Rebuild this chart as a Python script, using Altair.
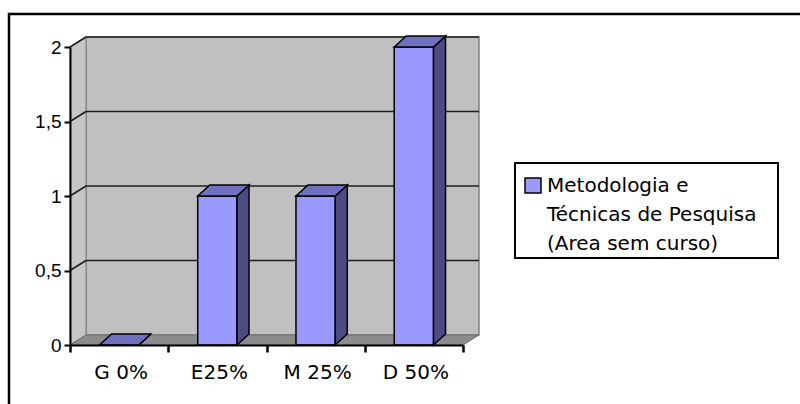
import altair as alt
import pandas as pd

# Chart values
categories = ["G 0%", "E25%", "M 25%", "D 50%"]
values = [0, 1, 1, 2]
y_ticks = [0, 0.5, 1, 1.5, 2]
series_lines = ["Metodologia e", "Técnicas de Pesquisa", "(Area sem curso)"]

# Plot area (front plane) in pixels
W, H = 393, 298
Y_MAX = 2
N = len(categories)
px_x = W / N
px_y = H / Y_MAX

# 3-D depth of walls and of the bars, expressed in data units
DXW, DYW = 16 / px_x, 10 / px_y
DXB, DYB = 12 / px_x, 11 / px_y
HALF = 0.2  # half bar width in category units

FRONT = "#9999FF"
TOP = "#7070C0"
SIDE = "#4C4C80"
WALL = "#C0C0C0"
FLOOR = "#8C8C8C"
FONT = "DejaVu Sans"
AXIS_FONT = "Liberation Sans"

xs = alt.Scale(domain=[0, N], nice=False, zero=False)
ys = alt.Scale(domain=[0, Y_MAX], nice=False, zero=False)

# Shared axes (identical on every layer so they merge cleanly), drawn above marks
x_axis = alt.Axis(
    values=list(range(N + 1)), labels=False, title=None, grid=False, zindex=2,
    domainColor="black", domainWidth=2, tickColor="black", tickWidth=2.5, tickSize=7,
)
y_axis = alt.Axis(
    values=y_ticks, title=None, grid=False, zindex=2,
    labelExpr="replace(format(datum.value, '~g'), '.', ',')",
    labelFont=AXIS_FONT, labelFontSize=19, labelColor="black", labelPadding=3,
    domainColor="black", domainWidth=2, tickColor="black", tickWidth=2, tickSize=6,
)


def X(field):
    return alt.X(field, scale=xs, axis=x_axis)


def Y(field):
    return alt.Y(field, scale=ys, axis=y_axis)


# ---- geometry tables built from the value arrays ----
front_rows, side_rows, top_rows = [], [], []
for i, (c, v) in enumerate(zip(categories, values)):
    xl, xr = i + 0.5 - HALF, i + 0.5 + HALF
    front_rows.append({"cat": c, "x": xl, "x2": xr, "y": 0, "y2": v})
    side_rows += [
        {"cat": c, "x": xr, "y": 0, "y2": v},
        {"cat": c, "x": xr + DXB, "y": DYB, "y2": v + DYB},
    ]
    top_rows += [
        {"cat": c, "y": v, "x": xl, "x2": xr},
        {"cat": c, "y": v + DYB, "x": xl + DXB, "x2": xr + DXB},
    ]
front_df = pd.DataFrame(front_rows)
side_df = pd.DataFrame(side_rows)
top_df = pd.DataFrame(top_rows)

label_df = pd.DataFrame({"cat": categories, "pos": [i + 0.5 for i in range(N)]})
grid_df = pd.DataFrame({"k": [t for t in y_ticks if t > 0]})
grid_df["kb"] = grid_df["k"] + DYW
grid_df["x0"] = 0.0
grid_df["xw"] = DXW
grid_df["xe"] = N + DXW

wall_df = pd.DataFrame([{"x": DXW, "x2": N + DXW, "y": DYW, "y2": Y_MAX + DYW}])
side_wall_df = pd.DataFrame([
    {"x": 0, "y": 0, "y2": Y_MAX},
    {"x": DXW, "y": DYW, "y2": Y_MAX + DYW},
])
floor_df = pd.DataFrame([
    {"y": 0, "x": 0, "x2": N},
    {"y": DYW, "x": DXW, "x2": N + DXW},
])
legend_df = pd.DataFrame({"name": ["\n".join(series_lines)]})
one_df = pd.DataFrame({"a": [0]})

# ---- outer frame ----
frame = alt.Chart(one_df).mark_rect(fill="white", stroke="black", strokeWidth=2.5).encode(
    x=alt.value(-61), x2=alt.value(745), y=alt.value(-33), y2=alt.value(380)
)

# ---- walls and floor ----
back_wall = alt.Chart(wall_df).mark_rect(fill=WALL, stroke="#808080", strokeWidth=1.5).encode(
    x=X("x:Q"), x2="x2:Q", y=Y("y:Q"), y2="y2:Q",
)
side_wall = alt.Chart(side_wall_df).mark_area(
    orient="vertical", fill="#C6C6C6", stroke="#808080", strokeWidth=1
).encode(x=X("x:Q"), y=Y("y:Q"), y2="y2:Q")

floor = alt.Chart(floor_df).mark_area(
    orient="horizontal", fill=FLOOR, stroke="#6E6E6E", strokeWidth=1
).encode(y=Y("y:Q"), x=X("x:Q"), x2="x2:Q")

# ---- gridlines on back and side walls ----
grid_back = alt.Chart(grid_df).mark_rule(color="#1E1E1E", strokeWidth=1.5).encode(
    x=X("xw:Q"), x2="xe:Q", y=Y("kb:Q"),
)
grid_side = alt.Chart(grid_df).mark_rule(color="#1E1E1E", strokeWidth=1.5).encode(
    x=X("x0:Q"), x2="xw:Q", y=Y("k:Q"), y2="kb:Q",
)

# ---- 3-D bars ----
bar_front = alt.Chart(front_df).mark_rect(fill=FRONT, stroke="black", strokeWidth=1.5).encode(
    x=X("x:Q"), x2="x2:Q", y=Y("y:Q"), y2="y2:Q",
)
bar_side = alt.Chart(side_df).mark_area(
    orient="vertical", fill=SIDE, stroke="black", strokeWidth=1.5
).encode(x=X("x:Q"), y=Y("y:Q"), y2="y2:Q", detail="cat:N")
bar_top = alt.Chart(top_df).mark_area(
    orient="horizontal", fill=TOP, stroke="black", strokeWidth=1.5
).encode(y=Y("y:Q"), x=X("x:Q"), x2="x2:Q", detail="cat:N")

# ---- category labels ----
cat_labels = alt.Chart(label_df).mark_text(
    font=FONT, fontSize=20, color="black", baseline="middle", align="center", dx=2
).encode(x=X("pos:Q"), y=alt.value(H + 28), text="cat:N")

# ---- legend ----
legend_box = alt.Chart(one_df).mark_rect(fill="white", stroke="black", strokeWidth=2).encode(
    x=alt.value(445), x2=alt.value(708), y=alt.value(116), y2=alt.value(211)
)
legend_swatch = alt.Chart(one_df).mark_rect(fill=FRONT, stroke="black", strokeWidth=1.5).encode(
    x=alt.value(455), x2=alt.value(471), y=alt.value(131), y2=alt.value(146)
)
legend_text = alt.Chart(legend_df).mark_text(
    font=FONT, fontSize=20, color="black", align="left", baseline="alphabetic",
    lineBreak="\n", lineHeight=29
).encode(x=alt.value(477), y=alt.value(145), text="name:N")

chart = alt.layer(
    frame, back_wall, side_wall, floor, grid_back, grid_side,
    bar_front, bar_side, bar_top, cat_labels,
    legend_box, legend_swatch, legend_text,
).properties(
    width=W, height=H,
    padding={"left": 70, "top": 47, "right": 337, "bottom": 59},
    autosize=alt.AutoSizeParams(type="none"),
    background="white",
).configure_view(stroke=None)

chart.save("out.html", embed_options={"renderer": "svg", "actions": False})
